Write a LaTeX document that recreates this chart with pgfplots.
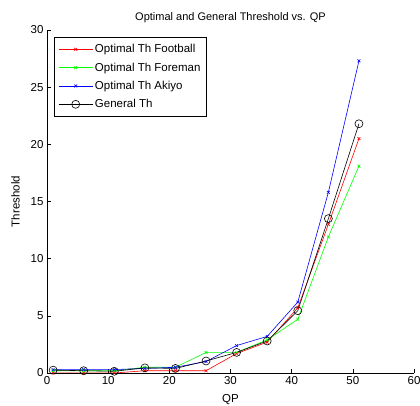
\documentclass[border=0pt]{standalone}
\usepackage{fontspec}
\setmainfont{Liberation Sans}
\usepackage{pgfplots}
\pgfplotsset{compat=1.18}
\usetikzlibrary{calc}

\begin{document}
\begin{tikzpicture}
\begin{axis}[
    scale only axis,
    width=367pt,
    height=343pt,
    xmin=0, xmax=60,
    ymin=0, ymax=30,
    xtick={0,10,...,60},
    ytick={0,5,...,30},
    axis lines=left,
    axis line style={-, black, line width=0.6pt},
    tick align=inside,
    tick style={black, line width=0.6pt},
    major tick length=4pt,
    xtick pos=left, ytick pos=left,
    /pgf/number format/assume math mode=true,
    ticklabel style={font=\fontsize{11.5}{13}\selectfont},
    xlabel={QP},
    ylabel={Threshold},
    label style={font=\fontsize{11.5}{13}\selectfont},
    xlabel style={yshift=-3pt},
    ylabel style={yshift=4pt},
    title={Optimal and General Threshold vs. QP},
    title style={font=\fontsize{11}{12}\selectfont, yshift=-2pt},
    legend cell align=left,
    legend image code/.code={
        \draw[mark repeat=2,mark phase=2]
            plot coordinates {(0pt,0pt) (17pt,0pt) (34pt,0pt)};
    },
    legend style={
        at={(7/367,1-7/343)},
        anchor=north west,
        font=\fontsize{11.5}{13}\selectfont,
        draw=black, line width=0.8pt,
        row sep=4.5pt,
        inner xsep=4pt, inner ysep=5pt,
    },
    every axis plot/.append style={line width=0.6pt},
]
\addplot[red, mark=x, mark size=2pt] coordinates {
    (1,0.0) (6,0.0) (11,0.0) (16,0.2) (21,0.2) (26,0.2)
    (31,1.7) (36,2.7) (41,5.7) (46,13.0) (51,20.5)
};
\addplot[green, mark=x, mark size=2pt] coordinates {
    (1,0.2) (6,0.2) (11,0.2) (16,0.5) (21,0.5) (26,1.8)
    (31,1.8) (36,2.9) (41,4.7) (46,11.9) (51,18.1)
};
\addplot[blue, mark=x, mark size=2pt] coordinates {
    (1,0.3) (6,0.3) (11,0.3) (16,0.4) (21,0.5) (26,1.0)
    (31,2.4) (36,3.2) (41,6.2) (46,15.8) (51,27.3)
};
\addplot[black, mark=o, mark size=4pt] coordinates {
    (1,0.25) (6,0.2) (11,0.15) (16,0.45) (21,0.4) (26,1.05)
    (31,1.8) (36,2.8) (41,5.45) (46,13.5) (51,21.8)
};
\legend{Optimal Th Football, Optimal Th Foreman, Optimal Th Akiyo, General Th}
\end{axis}
\pgfresetboundingbox
\path[use as bounding box] ($(current axis.south west)+(-47pt,-33pt)$) rectangle ($(current axis.north east)+(6pt,30pt)$);
\end{tikzpicture}
\end{document}
